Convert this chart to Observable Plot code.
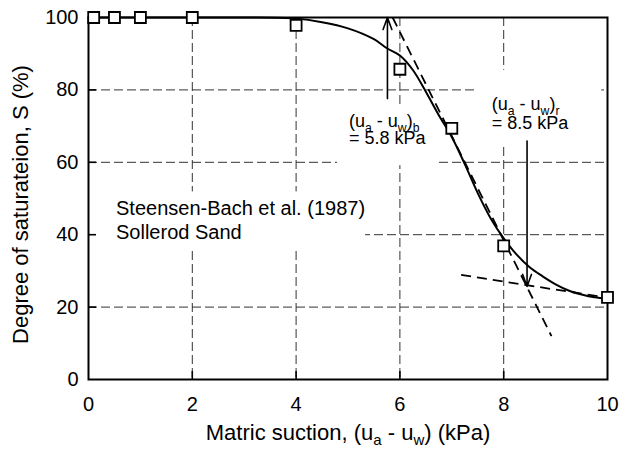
<!DOCTYPE html>
<html>
<head>
<meta charset="utf-8">
<script src="https://cdn.jsdelivr.net/npm/d3@7"></script>
<script src="https://cdn.jsdelivr.net/npm/@observablehq/plot@0.6"></script>
<style>
  html, body { margin: 0; padding: 0; background: white; }
</style>
</head>
<body>
<div id="chart"></div>
<script>
// ---- data ----
const xTicks = [0, 2, 4, 6, 8, 10];
const yTicks = [0, 20, 40, 60, 80, 100];
const xGrid = [2, 4, 6, 8];
const yGrid = [20, 40, 60, 80];

// measured data points (squares)
const pointX = [0.1, 0.5, 1, 2, 4, 6, 7, 8, 10];
const pointS = [100, 100, 100, 100, 97.8, 85.7, 69.4, 36.9, 22.7];

// fitted curve
const curveX = [0, 2, 3, 4, 4.5, 5, 5.5, 5.75, 6, 6.25, 6.5, 6.75, 7, 7.25, 7.5, 7.75, 8, 8.25, 8.5, 8.75, 9, 9.25, 9.5, 9.75, 10];
const curveS = [100, 100, 100, 99.7, 98.7, 97, 94, 91.5, 89.5, 85.5, 79.5, 73, 67, 59.5, 51.5, 44.5, 39, 34.5, 31, 28.5, 26.3, 24.6, 23.5, 22.7, 22.3];

// dashed tangent lines
const tangentX1 = [5.86, 7.18];
const tangentY1 = [100, 28.9];
const tangentX2 = [8.92, 9.95];
const tangentY2 = [12, 22.7];

// arrows
const arrowX = [5.76, 8.45];
const arrowFrom = [77.6, 65.9];
const arrowTo = [100, 25.7];

// annotations
const annoText = ["(u_{a} - u_{w})_{b}", "= 5.8 kPa", "(u_{a} - u_{w})_{r}", "= 8.5 kPa"];
const annoX = [5.02, 5.02, 7.77, 7.77];
const annoY = [71.4, 66.6, 76.1, 70.7];

const legendText = ["Steensen-Bach et al. (1987)", "Sollerod Sand"];
const legendX = [0.53, 0.53];
const legendY = [47.1, 40.7];

const xLabel = "Matric suction, (u_{a} - u_{w}) (kPa)";
const yLabel = "Degree of saturateion, S (%)";

// ---- tables ----
const points = pointX.map((x, i) => ({x, y: pointS[i]}));
const curve = curveX.map((x, i) => ({x, y: curveS[i]}));
const tangents = tangentX1.map((x, i) => ({x1: x, y1: tangentY1[i], x2: tangentX2[i], y2: tangentY2[i]}));
const arrows = arrowX.map((x, i) => ({x, y1: arrowFrom[i], y2: arrowTo[i]}));
const annos = annoText.map((t, i) => ({t, x: annoX[i], y: annoY[i]}));
const legend = legendText.map((t, i) => ({t, x: legendX[i], y: legendY[i]}));

const FONT = "'Liberation Sans', Arial, Helvetica, sans-serif";
const W = 619, H = 451, ML = 88, MR = 12, MT = 17, MB = 72;
const TICK = 8;

const plot = Plot.plot({
  width: W,
  height: H,
  marginLeft: ML,
  marginRight: MR,
  marginTop: MT,
  marginBottom: MB,
  style: {fontFamily: FONT, fontSize: "20px", background: "white", color: "black"},
  x: {domain: [0, 10]},
  y: {domain: [0, 100]},
  marks: [
    Plot.gridX(xGrid, {stroke: "#333", strokeOpacity: 1, strokeWidth: 1, strokeDasharray: "9,4"}),
    Plot.gridY(yGrid, {stroke: "#333", strokeOpacity: 1, strokeWidth: 1, strokeDasharray: "9,4"}),
    // inward tick marks
    Plot.ruleX(xGrid, {x: d => d, stroke: "black", strokeWidth: 1.6, insetTop: (H - MT - MB) - TICK}),
    Plot.ruleY(yGrid, {y: d => d, stroke: "black", strokeWidth: 1.6, insetRight: (W - ML - MR) - TICK}),
    Plot.line(curve, {x: "x", y: "y", curve: "catmull-rom", stroke: "black", strokeWidth: 2}),
    Plot.link(tangents, {x1: "x1", y1: "y1", x2: "x2", y2: "y2", stroke: "black", strokeWidth: 1.8, strokeDasharray: "10,6"}),
    Plot.arrow(arrows, {x: "x", y1: "y1", y2: "y2", stroke: "black", strokeWidth: 1.6, headLength: 12, headAngle: 40}),
    Plot.frame({stroke: "black", strokeWidth: 2}),
    Plot.dot(points, {x: "x", y: "y", symbol: "square", r: 6.2, fill: "white", stroke: "black", strokeWidth: 1.8}),
    Plot.text(annos, {x: "x", y: "y", text: "t", textAnchor: "start", fontSize: 18, fill: "black"}),
    Plot.text(legend, {x: "x", y: "y", text: "t", textAnchor: "start", fontSize: 20, fill: "black"}),
    Plot.axisX(xTicks, {tickSize: 0, tickPadding: 17, label: null, fontSize: 20}),
    Plot.axisY(yTicks, {tickSize: 0, tickPadding: 10, label: null, fontSize: 20}),
    Plot.text([xLabel], {frameAnchor: "bottom", textAnchor: "middle", dy: 60, fontSize: 22, fill: "black"}),
    Plot.text([yLabel], {frameAnchor: "left", textAnchor: "middle", dx: -68, dy: 6, rotate: -90, fontSize: 22, fill: "black"})
  ]
});

document.getElementById("chart").appendChild(plot);

// subscripts: turn "_{..}" into real tspans
const SVGNS = "http://www.w3.org/2000/svg";
function richify(el) {
  const s = el.textContent;
  if (!s.includes("_{")) return;
  const fs = parseFloat(getComputedStyle(el).fontSize);
  el.textContent = "";
  const parts = s.split(/(_\{[^}]*\})/).filter(p => p.length);
  let lowered = false;
  for (const p of parts) {
    const ts = document.createElementNS(SVGNS, "tspan");
    if (p.startsWith("_{")) {
      ts.textContent = p.slice(2, -1);
      ts.setAttribute("font-size", (fs * 0.68).toFixed(1) + "px");
      if (!lowered) { ts.setAttribute("dy", (fs * 0.27).toFixed(1)); lowered = true; }
    } else {
      ts.textContent = p;
      if (lowered) { ts.setAttribute("dy", (-fs * 0.27).toFixed(1)); lowered = false; }
    }
    el.appendChild(ts);
  }
}
plot.querySelectorAll("text").forEach(richify);

// white boxes behind the annotation texts (they break the grid lines)
const allTexts = Array.from(plot.querySelectorAll("text"));
function findTexts(strings) {
  const clean = strings.map(s => s.replace(/_\{([^}]*)\}/g, "$1"));
  return allTexts.filter(t => clean.includes(t.textContent));
}
function unionBox(els) {
  let x0 = Infinity, y0 = Infinity, x1 = -Infinity, y1 = -Infinity;
  const root = plot.getScreenCTM().inverse();
  for (const el of els) {
    const b = el.getBBox();
    const m = el.getScreenCTM();
    for (const [px, py] of [[b.x, b.y], [b.x + b.width, b.y + b.height]]) {
      const p = plot.createSVGPoint(); p.x = px; p.y = py;
      const q = p.matrixTransform(m).matrixTransform(root);
      x0 = Math.min(x0, q.x); y0 = Math.min(y0, q.y); x1 = Math.max(x1, q.x); y1 = Math.max(y1, q.y);
    }
  }
  return {x0, y0, x1, y1};
}
const sx = plot.scale("x");
const groups = [
  {els: findTexts(legendText), pad: [6, 0, 6, 0], left: sx.apply(0) + 2},
  {els: findTexts(annoText.slice(0, 2)), pad: [3, 9, 17, 12]},
  {els: findTexts(annoText.slice(2)), pad: [24, 32, 12, 15]}
];
const boxG = document.createElementNS(SVGNS, "g");
for (const g of groups) {
  if (!g.els.length) continue;
  const b = unionBox(g.els);
  const [pt, pr, pb, pl] = g.pad;
  const left = g.left !== undefined ? g.left : b.x0 - pl;
  const r = document.createElementNS(SVGNS, "rect");
  r.setAttribute("x", left);
  r.setAttribute("y", b.y0 - pt);
  r.setAttribute("width", b.x1 + pr - left);
  r.setAttribute("height", b.y1 - b.y0 + pt + pb);
  r.setAttribute("fill", "white");
  boxG.appendChild(r);
}
const yGridG = plot.querySelector('g[aria-label="y-grid"]');
if (yGridG) yGridG.after(boxG);
</script>
</body>
</html>
